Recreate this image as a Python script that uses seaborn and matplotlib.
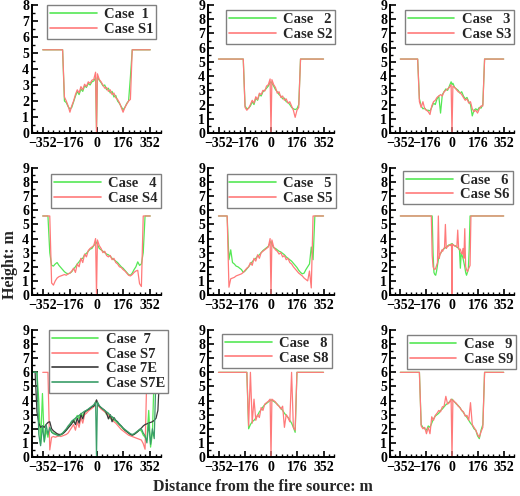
import numpy as np
import matplotlib
matplotlib.use("Agg")
import matplotlib.pyplot as plt
import seaborn as sns
from matplotlib.ticker import MultipleLocator, FixedLocator
from matplotlib.lines import Line2D

sns.set_theme(style="ticks")
plt.rcParams['font.family'] = ['Liberation Serif', 'DejaVu Serif']
plt.rcParams['font.weight'] = 'bold'
plt.rcParams['axes.unicode_minus'] = True

# ---------------- data (heights in m) ----------------
X_TICKS = [-352, -176, 0, 176, 352]
X_TICK_LABELS = ['\u2212352', '\u2212176', '0', '176', '352']

# panel grids: half-width of the sampled interior region
EDGE = {1: 234, 2: 198, 3: 234, 4: 318, 5: 294, 6: 147, 8: 174, 9: 222}

case1 = [5.2,
         5.2, 5.2, 2.0, 1.9, 1.65, 1.5, 1.6, 1.95, 2.3, 2.6, 2.4, 2.75, 2.6, 2.95, 2.85, 3.1, 3.0, 3.2, 3.25, 3.45,
         0.3,
         3.5, 3.3, 3.15, 2.95, 3.0, 2.7, 2.8, 2.5, 2.6, 2.25, 2.35, 2.0, 1.85, 1.65, 1.45, 1.6, 1.85, 2.0, 3.5, 5.2,
         5.2]
caseS1 = [5.2,
          5.2, 5.2, 2.25, 2.0, 1.7, 1.3, 1.7, 2.0, 2.4, 2.7, 2.5, 2.9, 2.7, 3.05, 2.9, 3.2, 3.1, 3.3, 3.35, 3.8,
          0.0,
          3.7, 3.35, 3.2, 3.0, 2.8, 2.85, 2.6, 2.7, 2.4, 2.5, 2.2, 2.1, 1.9, 1.6, 1.3, 1.6, 1.8, 2.0, 2.1, 5.2,
          5.2]

case2 = [5.2,
         5.2, 5.2, 1.9, 1.7, 1.75, 1.9, 2.2, 2.0, 2.45, 2.3, 2.7, 2.6, 2.9, 3.0, 3.15, 3.3, 3.55,
         3.6,
         3.5, 3.3, 3.05, 2.9, 2.7, 2.6, 2.4, 2.45, 2.2, 2.15, 2.0, 1.8, 1.7, 1.65, 1.7, 2.0, 5.2,
         5.2]
caseS2 = [5.2,
          5.2, 5.2, 1.8, 1.6, 1.75, 2.0, 2.3, 2.1, 2.55, 2.35, 2.8, 2.7, 3.0, 2.95, 3.3, 3.4, 3.8,
          0.0,
          3.75, 3.4, 3.2, 2.8, 2.9, 2.5, 2.6, 2.3, 2.4, 2.1, 2.2, 1.9, 1.6, 1.1, 1.6, 1.8, 5.2,
          5.2]

case3 = [5.2,
         5.2, 2.4, 1.9, 1.7, 1.75, 1.6, 1.6, 1.55, 1.8, 2.1, 2.0, 2.4, 2.6, 1.4, 2.7, 2.9, 3.1, 3.0, 3.3, 3.6,
         3.4,
         3.5, 3.2, 3.1, 3.0, 2.8, 2.9, 2.6, 2.4, 2.5, 2.2, 2.0, 1.2, 1.6, 1.7, 1.6, 1.8, 1.75, 2.0, 5.2, 5.2,
         5.2]
caseS3 = [5.2,
          5.2, 2.2, 1.8, 2.2, 1.7, 1.6, 1.5, 1.3, 1.9, 2.2, 2.3, 2.5, 2.6, 2.7, 2.6, 2.9, 3.0, 3.1, 3.2, 3.4,
          0.0,
          3.3, 3.2, 3.05, 2.9, 2.85, 2.7, 2.5, 2.3, 2.4, 2.1, 2.2, 1.7, 1.5, 1.6, 1.4, 1.7, 1.9, 1.9, 5.2, 5.2,
          5.2]

case4 = [5.6,
         5.6, 3.0, 2.1, 2.05, 2.2, 2.3, 2.1, 1.95, 1.8, 1.65, 1.55, 1.5, 1.55, 1.65, 1.85, 2.0, 2.2, 2.35, 2.55,
         2.6, 2.85, 2.95, 3.1, 3.25, 3.3, 3.5, 3.65,
         3.75,
         3.6, 3.3, 3.2, 3.1, 3.0, 2.9, 2.85, 2.75, 2.6, 2.5, 2.4, 2.3, 2.15, 2.0, 1.9, 1.75, 1.6, 1.45, 1.4,
         1.55, 1.8, 2.0, 2.35, 2.1, 2.2, 3.0, 5.6,
         5.6]
caseS4 = [5.6,
          5.6, 5.6, 0.85, 0.7, 1.0, 1.2, 1.3, 1.35, 1.4, 1.45, 1.4, 1.5, 1.55, 1.7, 1.9, 1.6, 2.2, 2.0, 2.6,
          2.3, 2.9, 2.7, 3.15, 3.3, 3.4, 3.5, 4.0,
          0.0,
          3.9, 3.5, 3.3, 3.0, 3.1, 2.8, 2.7, 2.8, 2.5, 2.6, 2.3, 2.2, 2.0, 1.95, 1.8, 1.7, 1.55, 1.4, 1.35,
          1.45, 1.6, 1.7, 1.75, 0.8, 0.6, 5.6, 5.6,
          5.6]

case5 = [5.6,
         5.6, 2.5, 3.2, 2.3, 2.2, 2.05, 2.0, 1.9, 1.8, 1.6, 1.7, 1.85, 2.0, 2.2, 2.35, 2.5, 2.6, 2.75, 2.85,
         3.0, 3.15, 3.25, 3.35, 3.45, 3.7,
         3.8,
         3.6, 3.35, 3.3, 3.2, 3.1, 3.05, 2.95, 2.85, 2.7, 2.6, 2.5, 2.4, 2.25, 2.1, 1.95, 1.75, 1.6, 1.5, 1.55,
         1.8, 2.0, 2.2, 3.4, 2.5, 5.6,
         5.6]
caseS5 = [5.6,
          5.6, 0.55, 1.15, 1.2, 1.25, 1.35, 1.4, 1.45, 1.5, 1.6, 1.75, 1.9, 2.0, 2.3, 2.1, 2.6, 2.4, 2.85, 2.6,
          3.0, 3.1, 3.2, 3.3, 3.4, 4.0,
          0.0,
          3.9, 3.4, 3.2, 3.1, 2.9, 3.0, 2.7, 2.8, 2.5, 2.6, 2.3, 2.2, 2.0, 1.85, 1.7, 1.55, 1.45, 1.35, 1.2,
          1.1, 1.0, 1.7, 0.5, 5.6, 5.6,
          5.6]

case6 = [5.6,
         5.6, 5.6, 5.6, 3.0, 1.6, 1.45, 1.4, 1.7, 2.1, 2.5, 2.75, 2.9, 3.0, 3.1, 3.2, 3.25, 3.3, 3.35, 3.4,
         3.45, 3.5, 3.55, 3.55, 3.6, 3.6,
         3.65,
         3.6, 3.55, 3.5, 3.5, 3.45, 3.4, 3.35, 3.3, 3.2, 1.9, 3.0, 2.8, 2.6, 2.3, 2.0, 1.6, 1.4, 1.6, 1.8,
         3.2, 5.6, 5.6, 5.6, 5.6, 5.6,
         5.6]
caseS6 = [5.6,
          5.6, 5.6, 2.8, 2.0, 1.85, 1.8, 1.9, 2.1, 2.3, 5.6, 2.6, 2.9, 3.0, 3.2, 3.1, 3.3, 3.35, 5.0, 3.3,
          3.4, 3.45, 3.5, 3.55, 3.5, 3.6,
          0.0,
          3.6, 3.55, 3.5, 3.45, 3.45, 3.4, 4.6, 3.3, 3.2, 3.25, 3.0, 2.9, 3.3, 2.6, 4.7, 2.0, 1.8, 1.65, 1.8,
          1.95, 2.1, 5.6, 5.6, 5.6, 5.6,
          5.6]

# panel 7: wide grid (Case 7, 7E, S7E) and narrow grid (Case S7)
case7 = [6.0,
         6.0, 6.0, 6.0, 4.0, 0.95, 4.5, 1.05, 1.9, 1.4, 2.0, 1.8, 1.7, 1.65, 1.6, 1.55, 1.55, 1.65, 1.8, 1.9,
         2.1, 2.25, 2.5, 2.45, 2.7, 2.95, 2.7, 3.1, 2.9, 3.2, 3.25, 3.35, 3.45, 3.55, 3.6, 3.85,
         4.0,
         3.8, 3.6, 3.5, 3.35, 3.25, 3.0, 3.1, 2.7, 2.85, 2.6, 2.55, 2.4, 2.3, 2.15, 2.0, 1.9, 1.8, 1.7, 1.6,
         1.55, 1.6, 1.7, 1.8, 1.9, 1.85, 1.55, 1.4, 1.2, 3.3, 0.7, 1.65, 6.0, 6.0, 6.0, 6.0,
         6.0]
caseS7 = [6.0,
          6.0, 6.0, 0.5, 1.4, 1.45, 1.4, 1.45, 1.5, 1.45, 1.5, 1.55, 1.6, 1.7, 1.9, 2.1, 2.3, 1.9, 2.5, 2.1,
          2.8, 2.4, 3.0, 3.1, 3.25, 3.35, 3.45, 3.55, 3.9,
          4.0,
          3.85, 3.55, 3.4, 3.3, 3.2, 3.1, 2.95, 2.8, 2.65, 2.5, 2.4, 2.25, 2.1, 1.95, 1.85, 1.75, 1.65, 1.55,
          1.5, 1.45, 1.4, 1.35, 1.3, 1.25, 1.2, 0.95, 0.55, 6.0,
          6.0]
case7E = [6.0,
          6.0, 6.0, 3.2, 2.4, 2.1, 2.2, 2.1, 2.3, 2.45, 2.5, 2.0, 1.85, 1.75, 1.65, 1.6, 1.6, 1.65, 1.75, 1.9,
          2.05, 2.2, 2.35, 2.6, 2.3, 2.75, 2.4, 3.0, 2.7, 3.15, 3.3, 3.35, 3.45, 3.55, 3.6, 3.8,
          4.05,
          3.85, 3.6, 3.5, 3.4, 3.3, 3.1, 2.7, 3.0, 2.5, 2.8, 2.6, 2.5, 2.3, 2.2, 2.05, 1.9, 1.8, 1.7, 1.6,
          1.55, 1.6, 1.7, 1.8, 1.95, 2.05, 2.2, 2.3, 2.35, 2.4, 2.45, 2.5, 2.6, 2.75, 3.3, 6.0,
          6.0]
caseS7E = [6.0,
           6.0, 6.0, 6.0, 1.6, 0.8, 2.2, 1.1, 2.3, 1.6, 2.1, 1.75, 1.65, 1.6, 1.55, 1.5, 1.6, 1.7, 1.85, 2.0,
           2.2, 2.35, 2.55, 2.65, 2.75, 2.85, 2.95, 3.05, 3.15, 3.25, 3.3, 3.4, 3.5, 3.6, 3.7, 3.9,
           0.0,
           3.9, 3.65, 3.5, 3.4, 3.3, 3.2, 3.1, 2.95, 2.85, 2.75, 2.6, 2.45, 2.35, 2.2, 2.05, 1.95, 1.85, 1.75,
           1.65, 1.6, 1.65, 1.75, 1.85, 1.95, 2.0, 1.7, 1.5, 1.0, 2.4, 0.9, 2.0, 1.3, 6.0, 6.0, 6.0,
           6.0]

case8 = [6.0,
         6.0, 6.0, 2.0, 2.3, 2.5, 2.6, 2.75, 2.95, 3.2, 3.35, 3.55, 3.7, 3.8, 3.9, 4.0,
         4.05,
         4.0, 3.95, 3.85, 3.75, 3.6, 3.45, 3.3, 3.1, 2.95, 2.8, 2.6, 2.4, 2.1, 1.75, 6.0,
         6.0]
caseS8 = [6.0,
          6.0, 6.0, 2.2, 6.0, 2.4, 4.1, 2.6, 3.0, 2.8, 3.5, 3.3, 3.75, 3.85, 3.95, 4.1,
          0.0,
          4.1, 4.0, 3.9, 3.7, 3.6, 3.4, 3.6, 2.1, 3.0, 2.8, 2.5, 6.0, 2.1, 1.9, 6.0,
          6.0]

case9 = [6.0,
         6.0, 2.3, 2.1, 2.0, 1.9, 2.2, 2.1, 2.4, 2.7, 2.9, 3.0, 3.1, 3.3, 3.4, 3.55, 3.7, 3.8, 3.9, 4.05,
         4.1,
         4.0, 3.9, 3.75, 3.65, 3.5, 3.3, 3.15, 2.95, 2.8, 2.6, 2.4, 2.25, 2.0, 1.9, 1.5, 1.3, 1.9, 2.3, 6.0,
         6.0]
caseS9 = [6.0,
          6.0, 2.2, 2.0, 2.1, 1.65, 2.1, 1.65, 2.85, 2.6, 2.95, 3.1, 3.3, 3.2, 3.55, 3.6, 4.3, 3.75, 3.85, 4.1,
          0.0,
          4.05, 3.9, 3.8, 3.6, 3.5, 3.3, 3.2, 2.9, 2.95, 2.6, 3.85, 2.3, 2.1, 1.9, 1.6, 1.4, 1.8, 2.1, 6.0,
          6.0]


def grid(E, step=12, outer=352):
    left = np.arange(-E, 0, step)
    right = np.arange(step / 2, E + 1, step)
    return np.r_[-outer, left, 0, right, outer]


GREEN = '#55e855'
RED = '#ff7a7a'
BLACK = '#3a3a3a'
TEAL = '#3a9d68'

panels = [
    (1, 8, [(grid(EDGE[1]), case1, 'Case  1', GREEN), (grid(EDGE[1]), caseS1, 'Case S1', RED)], 0.116, 1.0),
    (2, 9, [(grid(EDGE[2]), case2, 'Case   2', GREEN), (grid(EDGE[2]), caseS2, 'Case S2', RED)], 0.144, 0.96),
    (3, 9, [(grid(EDGE[3]), case3, 'Case   3', GREEN), (grid(EDGE[3]), caseS3, 'Case S3', RED)], 0.12, 0.96),
    (4, 9, [(grid(EDGE[4]), case4, 'Case   4', GREEN), (grid(EDGE[4]), caseS4, 'Case S4', RED)], 0.15, 0.95),
    (5, 9, [(grid(EDGE[5]), case5, 'Case   5', GREEN), (grid(EDGE[5]), caseS5, 'Case S5', RED)], 0.147, 0.95),
    (6, 9, [(grid(EDGE[6], 6), case6, 'Case   6', GREEN), (grid(EDGE[6], 6), caseS6, 'Case S6', RED)], 0.108, 0.98),
    (7, 9, [(grid(414, 12, 422), case7, 'Case  7', GREEN), (grid(330), caseS7, 'Case S7', RED),
            (grid(414, 12, 422), case7E, 'Case 7E', BLACK), (grid(414, 12, 422), caseS7E, 'Case S7E', TEAL)],
     0.13, 1.0),
    (8, 9, [(grid(EDGE[8]), case8, 'Case   8', GREEN), (grid(EDGE[8]), caseS8, 'Case S8', RED)], 0.115, 0.97),
    (9, 9, [(grid(EDGE[9]), case9, 'Case   9', GREEN), (grid(EDGE[9]), caseS9, 'Case S9', RED)], 0.135, 0.96),
]

W, H = 520, 496
cols = [(32, 161), (208, 334), (390, 514)]
rows = [(5, 133), (168, 295), (330, 457)]

fig = plt.figure(figsize=(W / 100, H / 100), dpi=100)
fig.patch.set_facecolor('white')

for idx, ymax, series, lx, ly in panels:
    r, c = divmod(idx - 1, 3)
    x0, x1 = cols[c]
    y0, y1 = rows[r]
    ax = fig.add_axes([x0 / W, 1 - y1 / H, (x1 - x0) / W, (y1 - y0) / H])
    handles = []
    for xs, ys, lab, col in series:
        assert len(xs) == len(ys), (lab, len(xs), len(ys))
        sns.lineplot(x=xs, y=np.asarray(ys, float), ax=ax, color=col, lw=0.9,
                     estimator=None, sort=False, legend=False)
        handles.append(Line2D([], [], color=col, lw=1.2, label=lab))
    ax.set_xlim(-422.4, 422.4)
    ax.set_ylim(0, ymax)
    ax.xaxis.set_major_locator(FixedLocator(X_TICKS))
    ax.xaxis.set_minor_locator(MultipleLocator(35.2))
    ax.yaxis.set_minor_locator(MultipleLocator(0.5))
    ax.set_xticks(X_TICKS)
    ax.set_xticklabels(X_TICK_LABELS, fontweight='bold', fontsize=10)
    yt = list(range(0, ymax + 1))
    ax.set_yticks(yt)
    ax.set_yticklabels([str(v) for v in yt], fontweight='bold', fontsize=10)
    ax.set_xlabel('')
    ax.set_ylabel('')
    for s in ('top', 'right'):
        ax.spines[s].set_visible(False)
    for s in ('left', 'bottom'):
        ax.spines[s].set_linewidth(1.4)
        ax.spines[s].set_color('black')
    ax.tick_params(which='major', direction='in', length=4, width=1.2, pad=3, colors='black')
    ax.tick_params(which='minor', direction='in', length=2.2, width=1.0, colors='black')
    ax.tick_params(axis='y', pad=2)
    ax.set_facecolor('white')
    leg = ax.legend(handles=handles, loc='upper left', bbox_to_anchor=(lx, ly),
                    frameon=True, fancybox=False, edgecolor='#808080', framealpha=1,
                    prop={'weight': 'bold', 'size': 10.5}, handlelength=3.2, handletextpad=0.5,
                    borderpad=0.2, labelspacing=0.1, borderaxespad=0)
    leg.get_frame().set_linewidth(1.0)

fig.text(0.505, 0.018, 'Distance from the fire source: m', ha='center', va='center',
         fontsize=11.5, fontweight='bold')
fig.text(0.02, 0.466, 'Height: m', ha='center', va='center', rotation=90,
         fontsize=11.5, fontweight='bold')

fig.savefig('out.png', dpi=100, facecolor='white')
